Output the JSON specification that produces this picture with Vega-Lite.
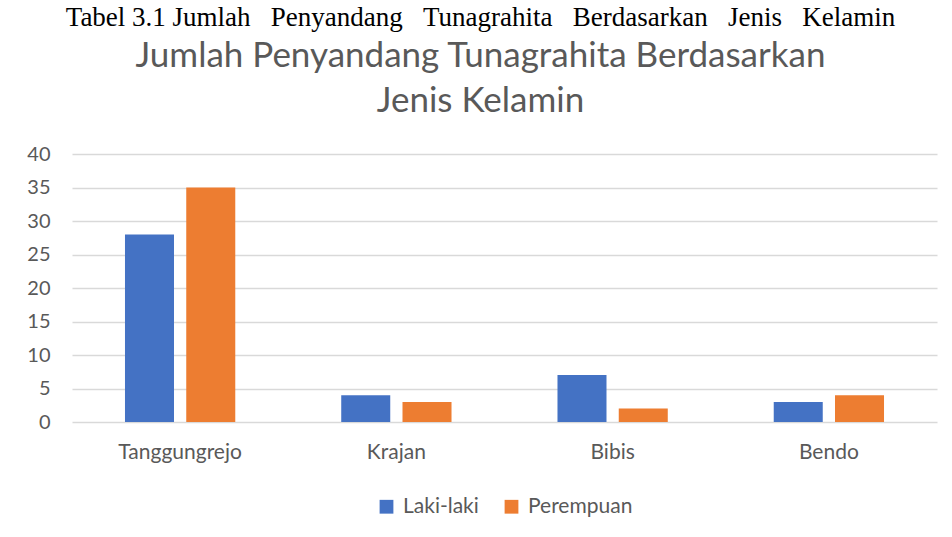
{
  "$schema": "https://vega.github.io/schema/vega-lite/v6.json",
  "width": 952,
  "height": 537,
  "autosize": {"type": "fit", "contains": "padding"},
  "padding": {"left": 26, "right": 15, "top": 4, "bottom": 20},
  "background": "white",
  "title": {
    "text": "Tabel 3.1 Jumlah\u00a0\u00a0\u00a0Penyandang\u00a0\u00a0\u00a0Tunagrahita\u00a0\u00a0\u00a0Berdasarkan\u00a0\u00a0\u00a0Jenis\u00a0\u00a0\u00a0Kelamin",
    "subtitle": ["Jumlah Penyandang Tunagrahita Berdasarkan", "Jenis Kelamin"],
    "font": "Liberation Serif",
    "fontSize": 27,
    "fontWeight": "normal",
    "color": "black",
    "subtitleFont": "Lato",
    "subtitleFontSize": 35,
    "subtitleColor": "#595959",
    "subtitleLineHeight": 45,
    "subtitlePadding": 7,
    "anchor": "middle",
    "offset": 24,
    "dx": -24
  },
  "data": {
    "values": [
      {"desa": "Tanggungrejo", "jenis": "Laki-laki", "jumlah": 28},
      {"desa": "Tanggungrejo", "jenis": "Perempuan", "jumlah": 35},
      {"desa": "Krajan", "jenis": "Laki-laki", "jumlah": 4},
      {"desa": "Krajan", "jenis": "Perempuan", "jumlah": 3},
      {"desa": "Bibis", "jenis": "Laki-laki", "jumlah": 7},
      {"desa": "Bibis", "jenis": "Perempuan", "jumlah": 2},
      {"desa": "Bendo", "jenis": "Laki-laki", "jumlah": 3},
      {"desa": "Bendo", "jenis": "Perempuan", "jumlah": 4}
    ]
  },
  "mark": {"type": "bar"},
  "encoding": {
    "x": {
      "field": "desa",
      "type": "nominal",
      "sort": ["Tanggungrejo", "Krajan", "Bibis", "Bendo"],
      "scale": {"paddingInner": 0.49, "paddingOuter": 0.245},
      "axis": {
        "title": null,
        "labelAngle": 0,
        "domain": false,
        "ticks": false,
        "labelFont": "Lato",
        "labelFontSize": 21,
        "labelColor": "#595959",
        "labelPadding": 19
      }
    },
    "xOffset": {
      "field": "jenis",
      "sort": ["Laki-laki", "Perempuan"],
      "scale": {"paddingInner": 0.2}
    },
    "y": {
      "field": "jumlah",
      "type": "quantitative",
      "scale": {"domain": [0, 40]},
      "axis": {
        "title": null,
        "domain": false,
        "ticks": false,
        "values": [0, 5, 10, 15, 20, 25, 30, 35, 40],
        "gridColor": "#D9D9D9",
        "gridWidth": 1.5,
        "labelFont": "Lato",
        "labelFontSize": 20,
        "labelColor": "#595959",
        "labelPadding": 22
      }
    },
    "color": {
      "field": "jenis",
      "type": "nominal",
      "sort": ["Laki-laki", "Perempuan"],
      "scale": {"domain": ["Laki-laki", "Perempuan"], "range": ["#4472C4", "#ED7D31"]},
      "legend": {
        "title": null,
        "orient": "bottom",
        "direction": "horizontal",
        "symbolType": "square",
        "symbolSize": 190,
        "symbolStrokeWidth": 0,
        "labelFont": "Lato",
        "labelFontSize": 21,
        "labelColor": "#595959",
        "labelOffset": 6,
        "columnPadding": 22,
        "offset": 34
      }
    }
  },
  "config": {
    "view": {"stroke": null},
    "legend": {"layout": {"bottom": {"anchor": "middle"}}}
  }
}
